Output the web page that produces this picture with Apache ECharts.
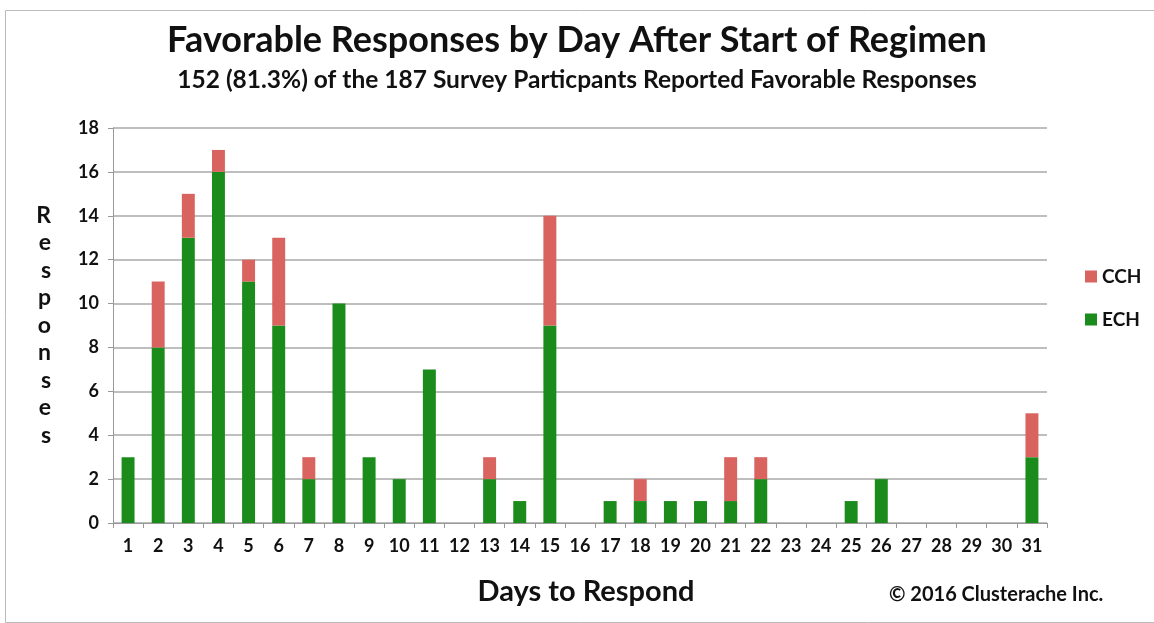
<!DOCTYPE html>
<html><head><meta charset="utf-8">
<script src="https://cdn.jsdelivr.net/npm/echarts@6/dist/echarts.min.js"></script>
<style>html,body{margin:0;padding:0;background:#fff}#c{width:1154px;height:623px}</style>
</head><body><div id="c"></div>
<script>
const days = ['1','2','3','4','5','6','7','8','9','10','11','12','13','14','15','16','17','18','19','20','21','22','23','24','25','26','27','28','29','30','31'];
const ech = [3,8,13,16,11,9,2,10,3,2,7,0,2,1,9,0,1,1,1,1,1,2,0,0,1,2,0,0,0,0,3];
const cch = [0,3,2,1,1,4,1,0,0,0,0,0,1,0,5,0,0,1,0,0,2,1,0,0,0,0,0,0,0,0,2];
const yTicks = [0,2,4,6,8,10,12,14,16,18];
const FONT = 'Lato';
const chart = echarts.init(document.getElementById('c'), null, {renderer:'canvas'});
chart.setOption({
  backgroundColor:'#fff',
  animation:false,
  title:[
    {text:'Favorable Responses by Day After Start of Regimen', left:'center', top:17,
     textStyle:{fontFamily:FONT,fontWeight:'bold',fontSize:36,color:'#111'}},
    {text:'152 (81.3%) of the 187 Survey Particpants Reported Favorable Responses', left:'center', top:63,
     textStyle:{fontFamily:FONT,fontWeight:'bold',fontSize:24.5,color:'#111'}},
    {text:'Days to Respond', left:581, top:572, textAlign:'center',
     textStyle:{fontFamily:FONT,fontWeight:'bold',fontSize:29,color:'#111'}},
    {text:'© 2016 Clusterache Inc.', left:884, top:580,
     textStyle:{fontFamily:FONT,fontWeight:'bold',fontSize:20,color:'#111'}}
  ],
  legend:{orient:'vertical', left:1080, top:262, itemGap:24, itemWidth:12, itemHeight:12, icon:'rect',
    data:['CCH','ECH'],
    textStyle:{fontFamily:FONT,fontWeight:'bold',fontSize:19,color:'#111'}},
  grid:{left:113, right:107, top:128, bottom:100, containLabel:false},
  xAxis:{type:'category', data:days,
    axisLine:{show:true,lineStyle:{color:'#999'}},
    axisTick:{show:true,alignWithLabel:false,length:5,lineStyle:{color:'#999'}},
    axisLabel:{fontFamily:FONT,fontWeight:'bold',fontSize:18,color:'#111',margin:14,interval:0}},
  yAxis:{type:'value', min:0, max:18, interval:2,
    name:'R\ne\ns\np\no\nn\ns\ne\ns', nameLocation:'middle', nameRotate:0, nameGap:62,
    nameTextStyle:{fontFamily:FONT,fontWeight:'bold',fontSize:23,color:'#111',lineHeight:27.5},
    axisLine:{show:true,lineStyle:{color:'#999'}},
    axisTick:{show:true,length:5,lineStyle:{color:'#999'}},
    splitLine:{show:true,lineStyle:{color:'#a8a8a8',width:1.5}},
    axisLabel:{fontFamily:FONT,fontWeight:'bold',fontSize:18,color:'#111',margin:14}},
  series:[
    {name:'ECH', type:'bar', stack:'s', data:ech, barWidth:'43%', itemStyle:{color:'#1b8c1b'}},
    {name:'CCH', type:'bar', stack:'s', data:cch, barWidth:'43%', itemStyle:{color:'#d9645f'}}
  ],
  graphic:[{type:'rect', left:3, top:8, shape:{width:1150,height:612}, style:{fill:'none',stroke:'#bbb',lineWidth:1}, silent:true}]
});
</script></body></html>
